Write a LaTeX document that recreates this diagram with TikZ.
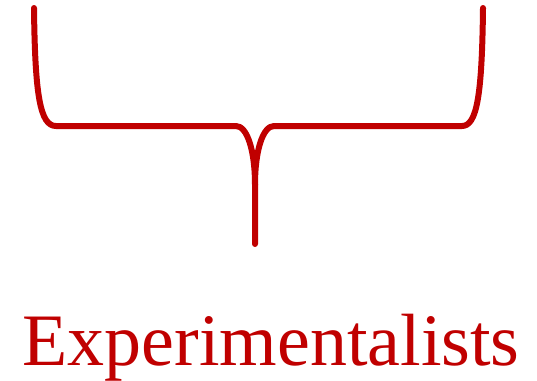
\documentclass[tikz,border=0pt]{standalone}
\usepackage{fontspec}
\setmainfont{Liberation Serif}
\definecolor{bracered}{HTML}{C00000}
\begin{document}
\begin{tikzpicture}[x=1pt,y=-1pt,
  brace/.style={draw=bracered,line width=6pt,line cap=round,line join=round},
  label/.style={text=bracered,font=\fontsize{74}{80}\selectfont,inner sep=0pt,anchor=base}]
\useasboundingbox (0,0) rectangle (537,380);
\coordinate (lt) at (34,8);
\coordinate (rt) at (483,8);
\coordinate (tip) at (255,244);
\coordinate (mid) at (255,185);
\draw[brace] (lt) .. controls (35,95) and (40,126) .. (56,126) -- (236,126)
  .. controls (247,126) and (255,150) .. (mid) -- (tip);
\draw[brace] (rt) .. controls (482,95) and (477,126) .. (462,126) -- (274,126)
  .. controls (263,126) and (255,150) .. (mid);
\node[label] (lbl) at (271,365) {Experimentalists};
\end{tikzpicture}
\end{document}
